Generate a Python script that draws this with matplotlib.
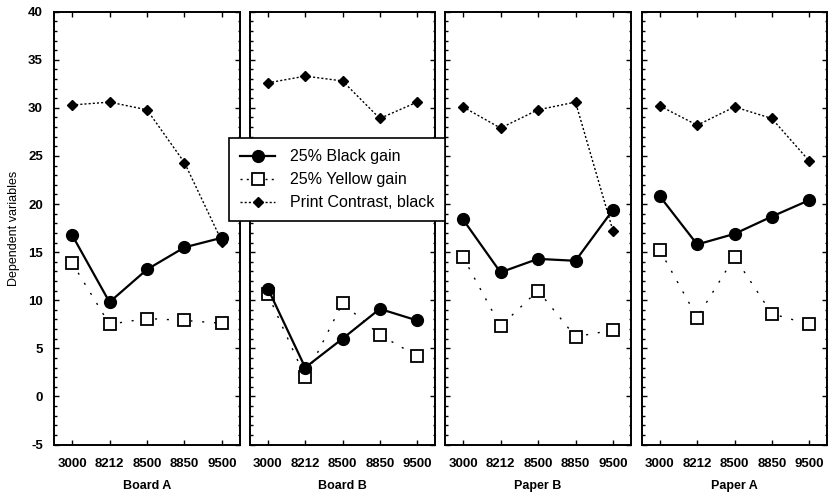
import matplotlib
matplotlib.use("Agg")
import matplotlib.pyplot as plt
from matplotlib.ticker import MultipleLocator
from matplotlib.lines import Line2D

plt.rcParams['font.family'] = ['Liberation Sans', 'DejaVu Sans']

# grades on the x axis, same in each panel
grades = ["3000", "8212", "8500", "8850", "9500"]
substrates = ["Board A", "Board B", "Paper B", "Paper A"]

# 25% Black gain
black_gain = [
    [16.8, 9.8, 13.2, 15.5, 16.5],
    [11.2, 3.0, 6.0, 9.1, 7.9],
    [18.4, 12.9, 14.3, 14.1, 19.4],
    [20.8, 15.8, 16.9, 18.7, 20.4],
]
# 25% Yellow gain
yellow_gain = [
    [13.9, 7.5, 8.1, 7.9, 7.6],
    [10.6, 2.0, 9.7, 6.4, 4.2],
    [14.5, 7.3, 11.0, 6.2, 6.9],
    [15.2, 8.2, 14.5, 8.6, 7.5],
]
# Print Contrast, black
print_contrast = [
    [30.3, 30.6, 29.8, 24.3, 16.1],
    [32.6, 33.3, 32.8, 28.9, 30.6],
    [30.1, 27.9, 29.8, 30.6, 17.2],
    [30.2, 28.2, 30.1, 28.9, 24.5],
]

W, H = 835, 492
fig = plt.figure(figsize=(W / 100, H / 100), dpi=100)

lefts = [54, 250, 445, 642]
widths = [186, 185, 186, 185]
top, bottom = 11.7, 444.5

x = list(range(len(grades)))
axes = []
for i, name in enumerate(substrates):
    ax = fig.add_axes([lefts[i] / W, 1 - bottom / H, widths[i] / W, (bottom - top) / H])
    axes.append(ax)
    ax.plot(x, yellow_gain[i], color='black', lw=1.0, linestyle=(0, (1.5, 7)),
            marker='s', markersize=8, markerfacecolor='white', markeredgewidth=1.3)
    ax.plot(x, print_contrast[i], color='black', lw=1.0, linestyle=(0, (1.5, 1.5)),
            marker='D', markersize=5.5)
    ax.plot(x, black_gain[i], color='black', lw=1.6, linestyle='-',
            marker='o', markersize=8.5)

    ax.set_xlim(-0.48, 4.48)
    ax.set_ylim(-5, 40)
    ax.set_xticks(x)
    ax.set_xticklabels(grades, fontsize=9.5, fontweight='bold')
    ax.yaxis.set_major_locator(MultipleLocator(5))
    ax.yaxis.set_minor_locator(MultipleLocator(1))
    ax.tick_params(which='both', direction='in', top=True, right=True, width=1)
    ax.tick_params(which='major', length=3.5, pad=10)
    ax.tick_params(which='minor', length=1.8)
    ax.set_xlabel(name, fontsize=9, fontweight='bold', labelpad=7)
    for s in ax.spines.values():
        s.set_linewidth(1.4)
    if i == 0:
        ax.set_yticks(range(-5, 41, 5))
        ax.set_yticklabels([str(v) for v in range(-5, 41, 5)], fontsize=9.5, fontweight='bold')
        ax.tick_params(axis='y', pad=8)
        ax.set_ylabel("Dependent variables", fontsize=9, labelpad=6)
    else:
        ax.tick_params(axis='y', labelleft=False)

handles = [
    Line2D([], [], color='black', lw=1.6, marker='o', markersize=8.5),
    Line2D([], [], color='black', lw=1.0, linestyle=(0, (1.5, 3)), marker='s',
           markersize=8, markerfacecolor='white', markeredgewidth=1.3),
    Line2D([], [], color='black', lw=1.0, linestyle=(0, (1.5, 1.5)), marker='D', markersize=5.5),
]
labels = ["25% Black gain", "25% Yellow gain", "Print Contrast, black"]
leg = fig.legend(handles, labels, loc='upper left',
                 bbox_to_anchor=(229 / W, 1 - 138 / H), borderaxespad=0, fontsize=11.5,
                 frameon=True, fancybox=False, framealpha=1, edgecolor='black',
                 handlelength=2.2, borderpad=0.7, labelspacing=0.5, handletextpad=0.9)
leg.get_frame().set_linewidth(1.2)

fig.savefig("out.png", dpi=100)
